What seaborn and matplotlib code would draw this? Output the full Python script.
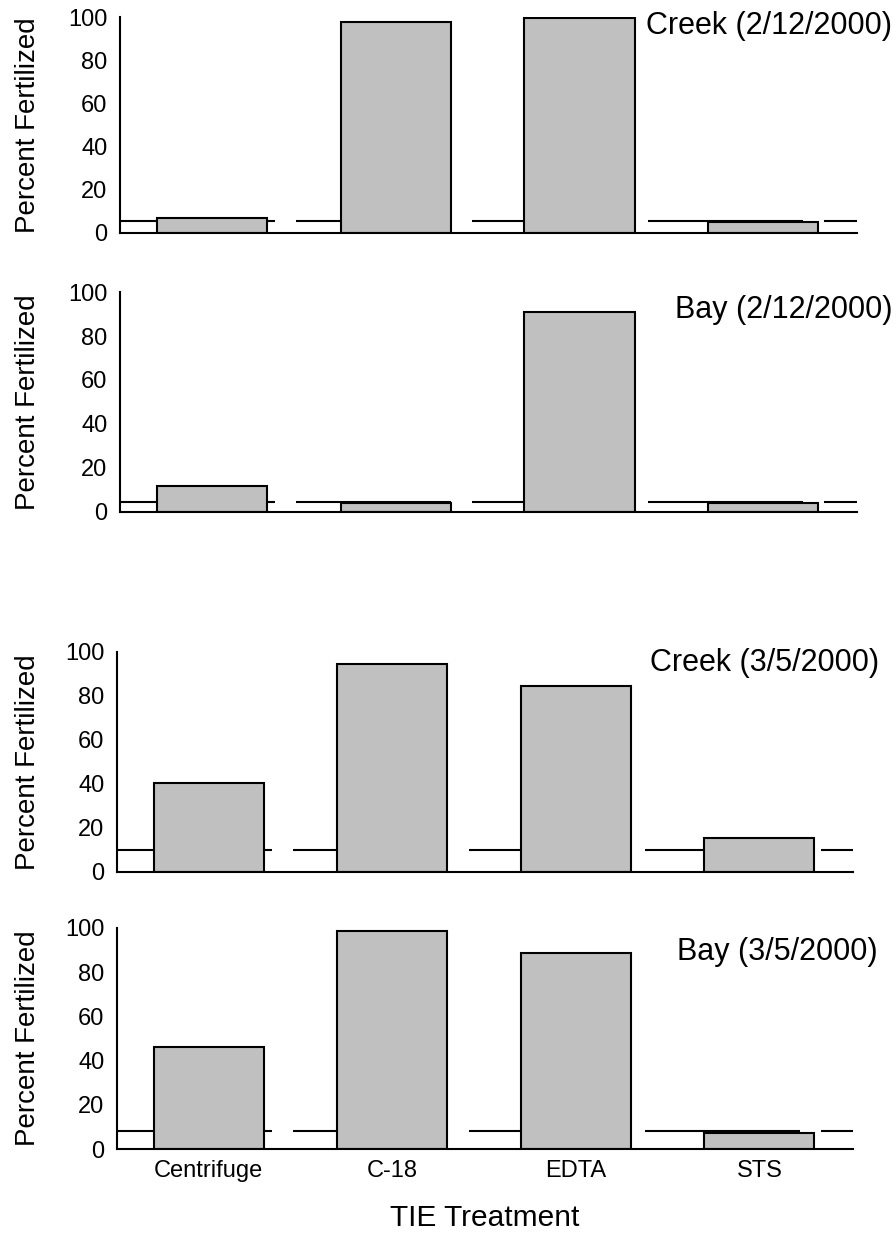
import matplotlib
matplotlib.use("Agg")
import matplotlib.pyplot as plt
import seaborn as sns
import pandas as pd

# ---- data ----
treatments = ["Centrifuge", "C-18", "EDTA", "STS"]
creek_feb = [7, 97.7, 99.5, 5]
bay_feb = [11.7, 4.1, 91, 4.1]
creek_mar = [40.6, 94.4, 84.4, 15.5]
bay_mar = [46, 98.5, 88.5, 7.1]
controls = [5.4, 4.6, 10, 8]
titles = ["Creek (2/12/2000)", "Bay (2/12/2000)", "Creek (3/5/2000)", "Bay (3/5/2000)"]
series = [creek_feb, bay_feb, creek_mar, bay_mar]
yticks = [0, 20, 40, 60, 80, 100]
ylabel = "Percent Fertilized"
xlabel = "TIE Treatment"

sns.set_style("white")
plt.rcParams["font.family"] = ["Liberation Sans", "DejaVu Sans"]
plt.rcParams["text.color"] = "black"
plt.rcParams["axes.labelcolor"] = "black"
plt.rcParams["xtick.color"] = "black"
plt.rcParams["ytick.color"] = "black"

W, H = 896, 1237
fig = plt.figure(figsize=(W / 100, H / 100), dpi=100)

# axes boxes in pixels: left, right, top, bottom
boxes = [(120, 857, 17, 233), (120, 857, 292, 512), (117, 853, 652, 872), (117, 853, 928, 1149)]
title_pos = [(892, 26), (892, 310), (879, 663), (878, 952)]

LW = 1.5
dash_px, gap_px = 155, 21
dash_pat = (0, (dash_px * 0.72 / LW, gap_px * 0.72 / LW))

for i, (vals, ctrl, ttl, box) in enumerate(zip(series, controls, titles, boxes)):
    l, r, t, b = box
    ax = fig.add_axes([l / W, 1 - b / H, (r - l) / W, (b - t) / H])
    df = pd.DataFrame({"Treatment": treatments, "Percent": vals})
    sns.barplot(data=df, x="Treatment", y="Percent", ax=ax, color="#c0c0c0",
                saturation=1, edgecolor="black", linewidth=LW, width=0.6, zorder=2)
    ax.axhline(ctrl, color="black", lw=LW, linestyle=dash_pat, zorder=1)
    ax.set_xlim(-0.5, 3.51)
    ax.set_ylim(0, 100)
    ax.set_yticks(yticks)
    ax.tick_params(axis="y", direction="out", length=5, width=LW, labelsize=17, pad=4,
                   color="black", labelcolor="black")
    ax.tick_params(axis="x", length=0, labelsize=17, pad=8, labelcolor="black")
    for s in ["top", "right"]:
        ax.spines[s].set_visible(False)
    for s in ["left", "bottom"]:
        ax.spines[s].set_linewidth(LW)
        ax.spines[s].set_color("black")
    ax.set_ylabel(ylabel, fontsize=20, color="black")
    ax.yaxis.set_label_coords((41 - l) / (r - l), 0.5)
    if i < 3:
        ax.set_xticklabels([])
        ax.set_xlabel("")
    else:
        ax.set_xlabel(xlabel, fontsize=21.5, labelpad=16, color="black")
    tx, ty = title_pos[i]
    fig.text(tx / W, 1 - ty / H, ttl, ha="right", va="center", fontsize=22, color="black")

fig.savefig("out.png", dpi=100)
